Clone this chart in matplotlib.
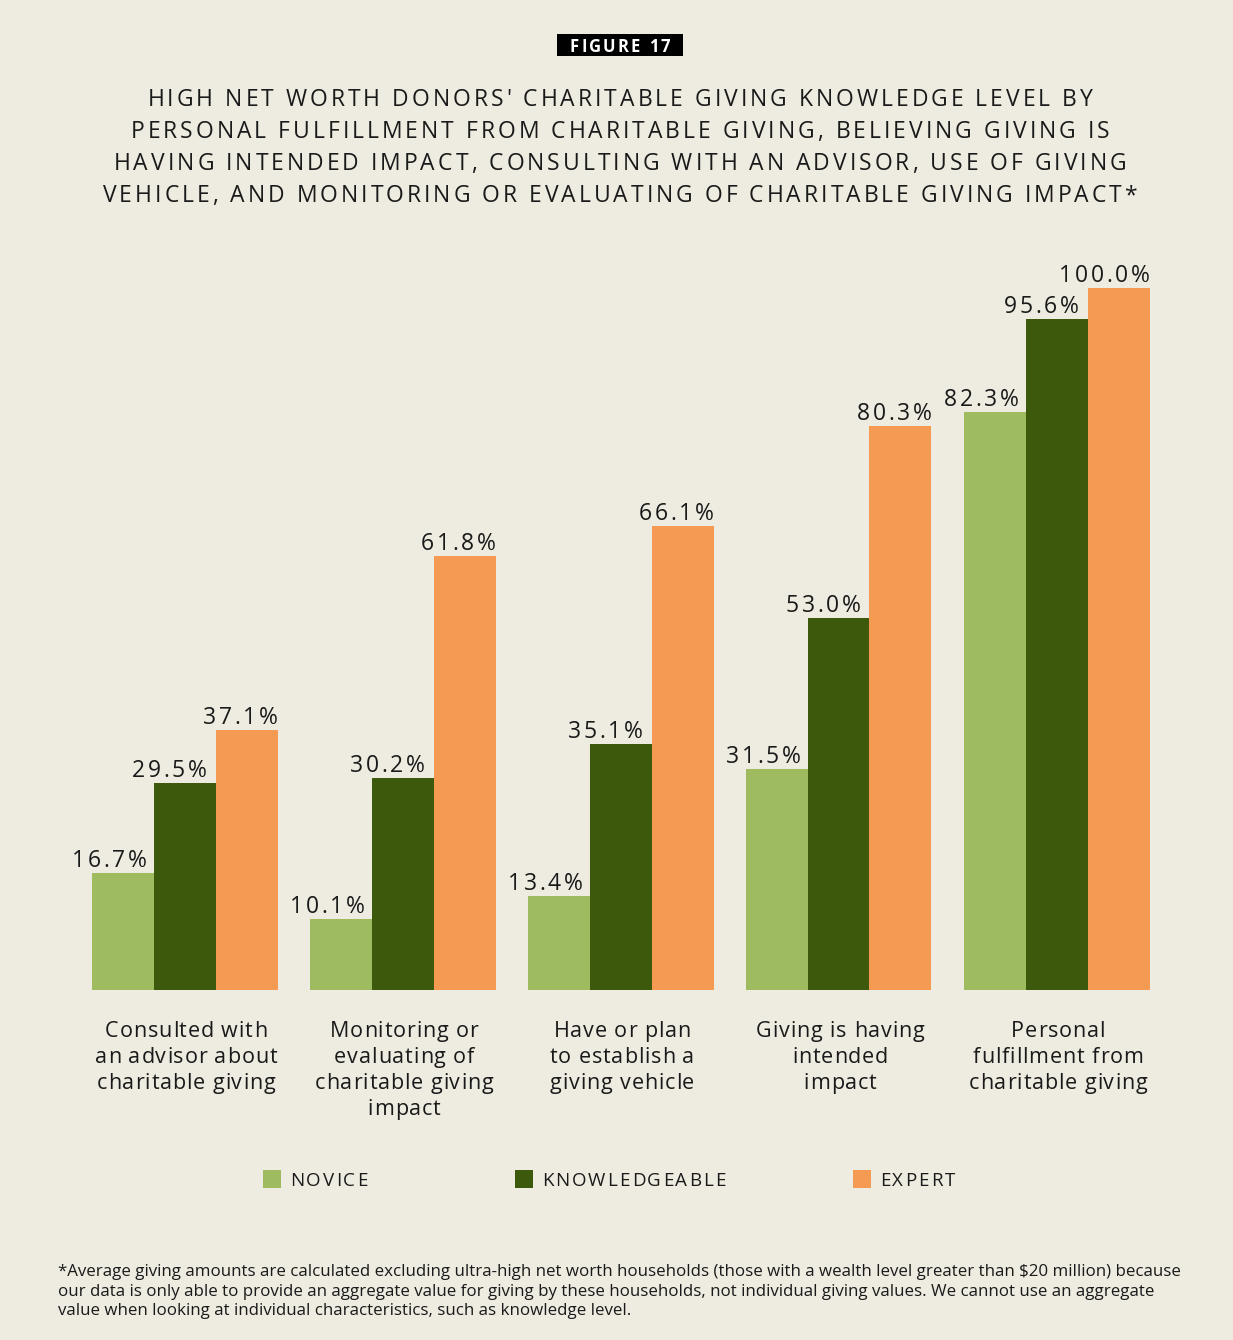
import matplotlib
matplotlib.use("Agg")
import matplotlib.pyplot as plt
from matplotlib.patches import Rectangle
from matplotlib.font_manager import FontProperties, findfont, get_font
import numpy as np

try:
    from matplotlib.ft2font import LoadFlags
    NOHINT = LoadFlags.NO_HINTING
except Exception:
    from matplotlib.ft2font import LOAD_NO_HINTING as NOHINT

# ---------------- data ----------------
categories = [
    "Consulted with\nan advisor about\ncharitable giving",
    "Monitoring or\nevaluating of\ncharitable giving\nimpact",
    "Have or plan\nto establish a\ngiving vehicle",
    "Giving is having\nintended\nimpact",
    "Personal\nfulfillment from\ncharitable giving",
]
series_names = ["NOVICE", "KNOWLEDGEABLE", "EXPERT"]
novice = [16.7, 10.1, 13.4, 31.5, 82.3]
knowledgeable = [29.5, 30.2, 35.1, 53.0, 95.6]
expert = [37.1, 61.8, 66.1, 80.3, 100.0]
colors = ["#9FBB5F", "#3D5A0C", "#F59A52"]

fig_label = "FIGURE 17"
title_lines = [
    "HIGH NET WORTH DONORS' CHARITABLE GIVING KNOWLEDGE LEVEL BY",
    "PERSONAL FULFILLMENT FROM CHARITABLE GIVING, BELIEVING GIVING IS",
    "HAVING INTENDED IMPACT, CONSULTING WITH AN ADVISOR, USE OF GIVING",
    "VEHICLE, AND MONITORING OR EVALUATING OF CHARITABLE GIVING IMPACT*",
]
footnote_lines = [
    "*Average giving amounts are calculated excluding ultra-high net worth households (those with a wealth level greater than $20 million) because",
    "our data is only able to provide an aggregate value for giving by these households, not individual giving values. We cannot use an aggregate",
    "value when looking at individual characteristics, such as knowledge level.",
]

# ---------------- figure ----------------
W, H = 1233, 1340
DPI = 100
BG = "#EEEBE0"
TXT = "#1A1A1A"
FONT = "Open Sans"

fig = plt.figure(figsize=(W / DPI, H / DPI), dpi=DPI, facecolor=BG)


def fx(x):
    return x / W


def fy(y):
    return 1 - y / H


def spaced_text(x, y, s, size, spacing, ha="left", color=TXT, weight="normal", zorder=5):
    """Draw text with letter spacing; x,y in pixels from top-left (y = baseline)."""
    fp = FontProperties(family=FONT, size=size, weight=weight)
    font = get_font(findfont(fp))
    font.set_size(size, DPI)
    advs = []
    for c in s:
        g = font.load_char(ord(c), flags=NOHINT)
        advs.append(g.linearHoriAdvance / 65536.0)
    total = sum(advs) + spacing * (len(s) - 1)
    if ha == "center":
        x0 = x - total / 2
    elif ha == "right":
        x0 = x - total
    else:
        x0 = x
    pen = x0
    for c, a in zip(s, advs):
        if c != " ":
            fig.text(fx(pen), fy(y), c, fontproperties=fp, color=color,
                     ha="left", va="baseline", zorder=zorder)
        pen += a + spacing
    return total


# ---------------- axes ----------------
ax_left, ax_right, ax_top, ax_bottom = 60, 1190, 250, 990
ax = fig.add_axes([fx(ax_left), fy(ax_bottom), (ax_right - ax_left) / W, (ax_bottom - ax_top) / H])
ax.set_facecolor(BG)
ax.patch.set_alpha(0)
for sp in ax.spines.values():
    sp.set_visible(False)
ax.set_xticks([])
ax.set_yticks([])

group_px = 218.0
center0 = 184.5
xl = -(center0 - ax_left) / group_px
ax.set_xlim(xl, xl + (ax_right - ax_left) / group_px)
ax.set_ylim(0, (ax_bottom - ax_top) / 7.02)

bw = 62 / group_px
x = np.arange(len(categories))
all_series = [novice, knowledgeable, expert]
for k, (vals, col) in enumerate(zip(all_series, colors)):
    xs = x + (k - 1) * bw
    ax.bar(xs, vals, width=bw, color=col, edgecolor="none", linewidth=0)

# value labels, near the bar's right edge
label_shift = [-7, -9, 0]
for k, vals in enumerate(all_series):
    for i, v in enumerate(vals):
        xr = x[i] + (k - 1) * bw + bw / 2
        dx, dy = ax.transData.transform((xr, v))
        spaced_text(dx + label_shift[k], H - dy - 6, f"{v:.1f}%", 16.5, 2.6, ha="right")

# category labels
for i, cat in enumerate(categories):
    dx, _ = ax.transData.transform((x[i], 0))
    for j, line in enumerate(cat.split("\n")):
        spaced_text(dx + 1.5, 1037 + 26 * j, line, 15.5, 0.9, ha="center")

# ---------------- title ----------------
fig.patches.append(Rectangle((fx(557), fy(56)), (683 - 557) / W, (56 - 34) / H,
                             transform=fig.transFigure, facecolor="black", edgecolor="none", zorder=3))
spaced_text(620, 52, fig_label, 12, 2.2, ha="center", color="white", weight="bold")
for j, line in enumerate(title_lines):
    spaced_text(620, 106 + 32 * j, line, 16.5, 3.0, ha="center")

# ---------------- legend ----------------
leg_sq_x = [263, 515, 853]
for name, col, lx in zip(series_names, colors, leg_sq_x):
    fig.patches.append(Rectangle((fx(lx), fy(1188)), 18 / W, 18 / H,
                                 transform=fig.transFigure, facecolor=col, edgecolor="none", zorder=3))
    spaced_text(lx + 27, 1186, name, 13.5, 2.0, ha="left")

# ---------------- footnote ----------------
for j, line in enumerate(footnote_lines):
    fig.text(fx(58), fy(1276 + 19.5 * j), line, family=FONT, size=12.2, color=TXT,
             ha="left", va="baseline")

fig.savefig("out.png", dpi=DPI, facecolor=BG)
